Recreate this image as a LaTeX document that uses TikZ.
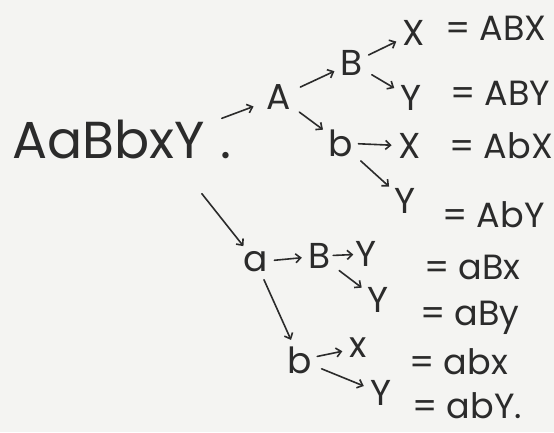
\documentclass[tikz,border=0pt]{standalone}
\usepackage{fontspec}
\setmainfont{Poppins}
\usetikzlibrary{arrows.meta}
\definecolor{ink}{HTML}{2B2B2B}
\definecolor{paper}{HTML}{F4F4F2}
\begin{document}
\begin{tikzpicture}[x=1pt,y=-1pt,
  lbl/.style={inner sep=0pt, text=ink, font=\fontsize{36}{40}\selectfont},
  res/.style={inner sep=0pt, text=ink, anchor=west, font=\fontsize{35}{40}\selectfont},
  arr/.style={draw=ink, line width=1.6pt, line cap=round, -{Straight Barb[length=5pt,width=9pt]}, shorten <=10pt, shorten >=7pt}]
\fill[paper] (0,0) rectangle (554,432);
\useasboundingbox (0,0) rectangle (554,432);
% root
\node[lbl, anchor=base west, font=\fontsize{52}{56}\selectfont] (root) at (12,158) {AaBbxY\hspace{16pt}.};
% upper branch
\node[lbl] (A1) at (279,97) {A};
\node[lbl] (B1) at (352,63) {B};
\node[lbl] (X1) at (414,33) {X};
\node[res] (r1) at (445,28) {= ABX};
\node[lbl] (Y2) at (411,98) {Y};
\node[res] (r2) at (450,93) {= ABY};
\node[lbl] (b3) at (341,143) {b};
\node[lbl] (X3) at (410,146) {X};
\node[res] (r3) at (449,146) {= AbX};
\node[lbl] (Y4) at (405,201) {Y};
\node[res] (r4) at (442,215) {= AbY};
% lower branch
\node[lbl] (a5) at (256,262) {a};
\node[lbl] (B5) at (320,256) {B};
\node[lbl] (Y5) at (366,254) {Y};
\node[res] (r5) at (424,267) {= aBx};
\node[lbl] (Y6) at (378,300) {Y};
\node[res] (r6) at (420,318) {= aBy};
\node[lbl] (b7) at (300,360) {b};
\node[lbl] (x7) at (358,348) {x};
\node[res] (r7) at (409,362) {= abx};
\node[lbl] (Y8) at (381,393) {Y};
\node[res] (r8) at (412,406) {= abY.};
% connectors
\draw[arr, shorten <=0pt, shorten >=14pt] ([shift={(-10,-1)}]root.north east) -- (A1);
\draw[arr] (A1) -- (B1);
\draw[arr, shorten <=6pt] (B1) -- (X1);
\draw[arr] (B1) -- (Y2);
\draw[arr] (A1) -- (b3);
\draw[arr, shorten <=5pt] (b3) -- (X3);
\draw[arr] (b3) -- (Y4);
\draw[arr, shorten <=0pt] ([shift={(-30,35)}]root.south east) -- (a5);
\draw[arr, shorten <=6pt] (a5) -- (B5);
\draw[arr, shorten <=2pt, shorten >=2pt] (B5) -- (Y5);
\draw[arr] (B5) -- (Y6);
\draw[arr, shorten <=8pt] (a5) -- (b7);
\draw[arr, shorten <=5pt] (b7) -- (x7);
\draw[arr] (b7) -- (Y8);
\end{tikzpicture}
\end{document}
